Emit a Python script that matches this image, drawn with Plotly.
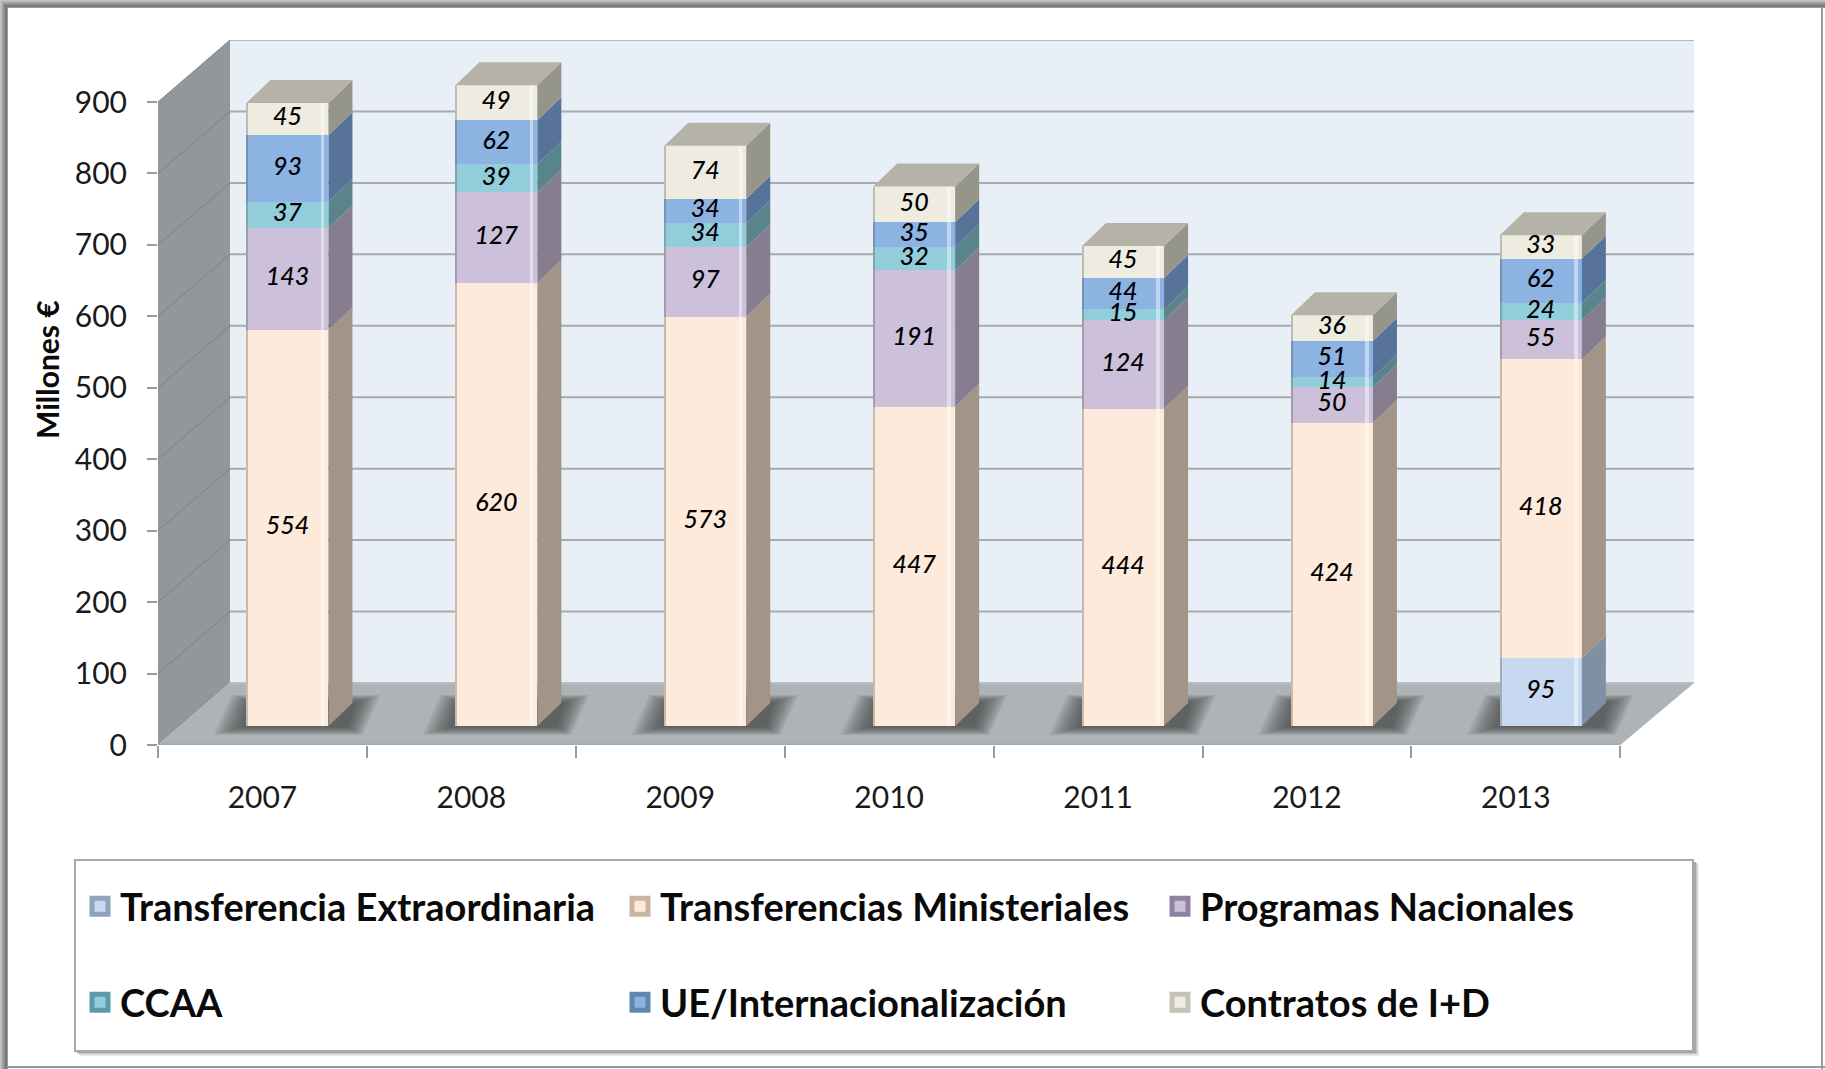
import plotly.graph_objects as go

W, H = 1825, 1069
FONT = "Lato"

years = ["2007", "2008", "2009", "2010", "2011", "2012", "2013"]
transferencia_extra = [0, 0, 0, 0, 0, 0, 95]
transferencias_min = [554, 620, 573, 447, 444, 424, 418]
programas_nac = [143, 127, 97, 191, 124, 50, 55]
ccaa = [37, 39, 34, 32, 15, 14, 24]
ue_inter = [93, 62, 34, 35, 44, 51, 62]
contratos = [45, 49, 74, 50, 45, 36, 33]
y_ticks = [0, 100, 200, 300, 400, 500, 600, 700, 800, 900]

series = [
    ("Transferencia Extraordinaria", transferencia_extra, "#c6d9f1", "#7f90a4", "#8fa3bd"),
    ("Transferencias Ministeriales", transferencias_min, "#fdeadb", "#a39488", "#c9b5a4"),
    ("Programas Nacionales", programas_nac, "#ccc0da", "#867d8f", "#8f83a3"),
    ("CCAA", ccaa, "#92cddc", "#5a848c", "#5f9aa8"),
    ("UE/Internacionalización", ue_inter, "#8db3e2", "#587399", "#6085b3"),
    ("Contratos de I+D", contratos, "#eeece1", "#96958a", "#c4c2b4"),
]

# pixel geometry of the plot
AX_L, AX_R_BACK, AX_0, AX_TOP = 158, 1694, 745, 40
PX_X = 208.9           # pixels per category
PX_Y = 643 / 900       # pixels per value unit
x_max = (AX_R_BACK - AX_L) / PX_X
y_max = (AX_0 - AX_TOP) / PX_Y
WALL_DX, WALL_DY = 72 / PX_X, 62 / PX_Y
BAR_W = 82 / PX_X
BAR_SHIFT = 25 / PX_X
BAR_LIFT = 19 / PX_Y
DEPTH_DX, DEPTH_DY = 24 / PX_X, 23 / PX_Y
FRONT_R = 7


def px(x):
    return x / W


def py(y):
    return 1 - y / H


shapes = []


def paper_rect(x0, y0, x1, y1, color, layer="below"):
    shapes.append(dict(type="rect", xref="paper", yref="paper", x0=px(x0), x1=px(x1),
                       y0=py(y0), y1=py(y1), fillcolor=color, line_width=0, layer=layer))


def data_poly(points, color, line=None, lw=0):
    path = "M" + "L".join(f"{a},{b}" for a, b in points) + "Z"
    shapes.append(dict(type="path", xref="x", yref="y", path=path, fillcolor=color,
                       line=dict(color=line or color, width=lw), layer="below"))


def data_line(x0, y0, x1, y1, color, lw):
    shapes.append(dict(type="line", xref="x", yref="y", x0=x0, y0=y0, x1=x1, y1=y1,
                       line=dict(color=color, width=lw), layer="below"))


# page frame (soft grey edge on the left and top, thin on right and bottom)
edge = ["#c4c4c4", "#b6b6b6", "#a8a8a8", "#9a9a9a", "#8c8c8c", "#7e7e7e", "#747474", "#9c9c9c"]
for i, c in enumerate(edge):
    paper_rect(i, i, i + 1, H, c)
    paper_rect(i, i, W, i + 1, c)
paper_rect(W - 4, 8, W - 2, H, "#9a9a9a")
paper_rect(8, H - 3, W, H - 1, "#9a9a9a")

# walls and floor
top = 900
data_poly([(0, 0), (WALL_DX, WALL_DY), (WALL_DX, top + WALL_DY), (0, top)], "#94979a")
data_poly([(WALL_DX, WALL_DY), (x_max, WALL_DY), (x_max, top + WALL_DY), (WALL_DX, top + WALL_DY)], "#e8eff7")
data_poly([(0, 0), (FRONT_R, 0), (x_max, WALL_DY), (WALL_DX, WALL_DY)], "#adb3b6")
for v in y_ticks[1:]:
    data_line(0, v, WALL_DX, v + WALL_DY, "#808386", 1)
    data_line(WALL_DX, v + WALL_DY, x_max, v + WALL_DY, "#a6abae", 2)
data_line(WALL_DX, WALL_DY, x_max, WALL_DY, "#b9bebf", 2)
data_line(0, 0, FRONT_R, 0, "#a2a7a9", 3)
data_line(WALL_DX, top + WALL_DY, x_max, top + WALL_DY, "#b4babb", 2)

# soft bar shadows on the floor
LAYERS = 14
for i in range(len(years)):
    left = i + 0.5 + BAR_SHIFT - BAR_W / 2
    right = left + BAR_W + DEPTH_DX
    for k in range(LAYERS):
        g = 1 - k / LAYERS
        x0, x1 = left - 33 * g / PX_X, right + 28 * g / PX_X
        y0, y1 = BAR_LIFT - 9 * g / PX_Y, BAR_LIFT + DEPTH_DY + 8 * g / PX_Y
        sl = (12 * g + 6) / PX_X
        data_poly([(x0, y0), (x1 - sl, y0), (x1, y1), (x0 + sl, y1)], "rgba(62,66,70,0.08)")

# legend frame with its drop shadow
for k, c in enumerate(["#ececec", "#dcdcdc", "#c4c4c4", "#a8a8a8"]):
    o = 5 - k
    paper_rect(75 + o, 860 + o, 1694 + o, 1051 + o, c)
shapes.append(dict(type="rect", xref="paper", yref="paper", x0=px(75), x1=px(1693), y0=py(860), y1=py(1051),
                   fillcolor="white", line=dict(color="#a9a9a9", width=2), layer="below"))

fig = go.Figure()
bar_x = [i + 0.5 + BAR_SHIFT for i in range(len(years))]
cum = [BAR_LIFT] * len(years)
lab_x, lab_y, lab_t = [], [], []
for name, values, front, side, _ in series:
    vis = [v if v else None for v in values]
    fig.add_trace(go.Bar(
        x=bar_x, y=vis, base=cum, width=BAR_W, marker=dict(color=front, line_width=0),
        showlegend=False, name=name, hoverinfo="y+name"))
    sx, sy = [], []
    for i, v in enumerate(values):
        if v:
            xr = bar_x[i] + BAR_W / 2
            b, t = cum[i], cum[i] + v
            sx += [xr, xr + DEPTH_DX, xr + DEPTH_DX, xr, xr, None]
            sy += [b, b + DEPTH_DY, t + DEPTH_DY, t, b, None]
            lab_x.append(bar_x[i])
            lab_y.append(cum[i] + v / 2)
            lab_t.append(str(v))
    fig.add_trace(go.Scatter(x=sx, y=sy, mode="lines", fill="toself", fillcolor=side,
                             line=dict(width=0, color=side), showlegend=False, hoverinfo="skip"))
    cum = [c + v for c, v in zip(cum, values)]

# edge highlights on the bar fronts
totals = [c - BAR_LIFT for c in cum]
base0 = [BAR_LIFT] * len(years)
fig.add_trace(go.Bar(x=[b + BAR_W / 2 - 0.028 for b in bar_x], y=totals, base=base0, width=0.018,
                     marker=dict(color="rgba(255,255,255,0.45)", line_width=0), showlegend=False, hoverinfo="skip"))
fig.add_trace(go.Bar(x=[b - BAR_W / 2 + 0.004 for b in bar_x], y=totals, base=base0, width=0.008,
                     marker=dict(color="rgba(70,60,50,0.28)", line_width=0), showlegend=False, hoverinfo="skip"))

# top caps
tx, ty = [], []
for i in range(len(years)):
    xl, xr = bar_x[i] - BAR_W / 2, bar_x[i] + BAR_W / 2
    t = cum[i]
    tx += [xl, xr, xr + DEPTH_DX, xl + DEPTH_DX, xl, None]
    ty += [t, t, t + DEPTH_DY, t + DEPTH_DY, t, None]
fig.add_trace(go.Scatter(x=tx, y=ty, mode="lines", fill="toself", fillcolor="#b5b2a8",
                         line=dict(width=0, color="#b5b2a8"), showlegend=False, hoverinfo="skip"))

# value labels, above every bar segment
fig.add_trace(go.Scatter(x=lab_x, y=lab_y, text=lab_t, mode="text", textposition="middle center",
                         textfont=dict(family=FONT, size=25, color="#000000", style="italic", weight=500),
                         showlegend=False, hoverinfo="skip"))

# legend entries: two rows, one legend each
for n, (name, _, front, side, mid) in enumerate(series):
    fig.add_trace(go.Scatter(
        x=[None], y=[None], mode="markers", name=name,
        legend="legend" if n < 3 else "legend2",
        marker=dict(symbol="square", size=16, color=front, line=dict(color=mid, width=5))))

legend_common = dict(
    orientation="h", entrywidth=495, entrywidthmode="pixels", xanchor="left", yanchor="top",
    bgcolor="rgba(0,0,0,0)", borderwidth=0, itemsizing="trace", itemclick=False, itemdoubleclick=False,
    font=dict(family=FONT, size=38, color="#0a0a0a", weight="bold"), traceorder="normal",
)

fig.update_layout(
    width=W, height=H, autosize=False, margin=dict(l=0, r=0, t=0, b=0, autoexpand=False),
    paper_bgcolor="white", plot_bgcolor="rgba(0,0,0,0)", barmode="overlay", bargap=0,
    shapes=shapes, hovermode="closest",
    font=dict(family=FONT, color="#1a1a1a"),
    legend=dict(x=px(80), y=py(875), **legend_common),
    legend2=dict(x=px(80), y=py(971), **legend_common),
    xaxis=dict(domain=[px(AX_L), px(AX_R_BACK)], range=[0, x_max], showgrid=False, zeroline=False, showline=False,
               tickmode="array", tickvals=[i + 0.5 for i in range(len(years))], ticktext=years,
               ticks="", ticklabelstandoff=32, tickfont=dict(family=FONT, size=30, color="#1a1a1a"),
               minor=dict(ticks="outside", tick0=0, dtick=1, ticklen=12, tickwidth=2, tickcolor="#9a9a9a", showgrid=False)),
    yaxis=dict(domain=[py(AX_0), py(AX_TOP)], range=[0, y_max], showgrid=False, zeroline=False, showline=False,
               tickmode="array", tickvals=y_ticks, ticktext=[str(v) for v in y_ticks],
               ticks="outside", ticklen=10, tickwidth=2, tickcolor="#9a9a9a", ticklabelstandoff=14,
               tickfont=dict(family=FONT, size=30, color="#1a1a1a")),
    annotations=[dict(text="<b>Millones €</b>", xref="paper", yref="paper", x=px(47), y=py(370),
                      xanchor="center", yanchor="middle", textangle=-90, showarrow=False,
                      font=dict(family=FONT, size=30, color="#0a0a0a"))],
)

fig.write_html("out.html", config={"displayModeBar": False}, post_script="document.body.style.margin='0';")
